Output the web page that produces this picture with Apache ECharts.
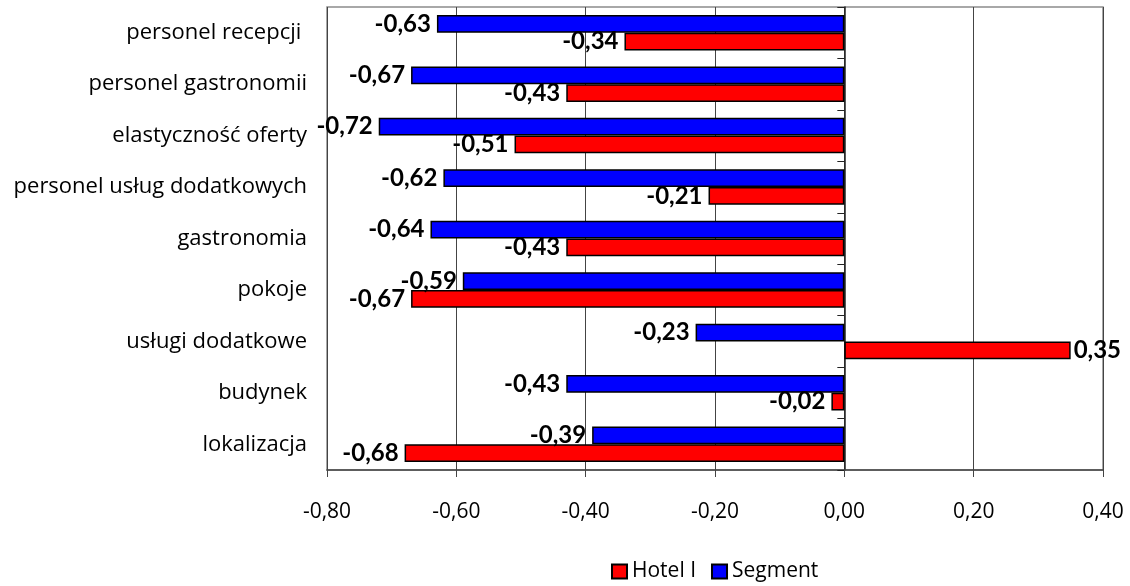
<!DOCTYPE html>
<html>
<head>
<meta charset="utf-8">
<script src="https://cdn.jsdelivr.net/npm/echarts@6/dist/echarts.min.js"></script>
<style>
  html, body { margin: 0; padding: 0; background: #fff; }
  #chart { width: 1130px; height: 586px; }
</style>
</head>
<body>
<div id="chart"></div>
<script>
// Categories, top to bottom
const categories = [
  'personel recepcji ',
  'personel gastronomii',
  'elastyczność oferty',
  'personel usług dodatkowych',
  'gastronomia',
  'pokoje',
  'usługi dodatkowe',
  'budynek',
  'lokalizacja'
];
const hotelValues   = [-0.34, -0.43, -0.51, -0.21, -0.43, -0.67, 0.35, -0.02, -0.68];
const segmentValues = [-0.63, -0.67, -0.72, -0.62, -0.64, -0.59, -0.23, -0.43, -0.39];
const xTicks = { min: -0.8, max: 0.4, interval: 0.2 };

const FONT = 'Lato';
const TEXT_FONT = 'Open Sans';
const fmt = v => v.toFixed(2).replace('.', ',');

function barLabel() {
  return {
    show: true,
    position: 'right',
    distance: 4,
    fontFamily: FONT,
    fontWeight: 'bold',
    fontSize: 24,
    color: '#000',
    formatter: p => fmt(p.value)
  };
}

function toData(values) {
  return values.map(v => ({
    value: v,
    label: v < 0 ? { position: 'left', distance: 6 } : { position: 'right', distance: 3 }
  }));
}

const chart = echarts.init(document.getElementById('chart'), null, { renderer: 'canvas' });
chart.setOption({
  animation: false,
  backgroundColor: '#fff',
  grid: {
    left: 327, right: 27, top: 7, bottom: 116,
    show: true, borderColor: '#8c8c8c', borderWidth: 1.5, backgroundColor: 'transparent'
  },
  legend: {
    left: 611, top: 561, padding: 0,
    itemWidth: 15, itemHeight: 14, itemGap: 15,
    icon: 'rect',
    data: ['Hotel I', 'Segment'],
    textStyle: { fontFamily: TEXT_FONT, fontSize: 21, color: '#000' }
  },
  xAxis: {
    type: 'value',
    min: xTicks.min, max: xTicks.max, interval: xTicks.interval,
    axisLine: { show: true, onZero: false, lineStyle: { color: '#444', width: 1.5 } },
    axisTick: { show: true, length: 7, lineStyle: { color: '#444' } },
    splitLine: { show: true, lineStyle: { color: '#444', width: 1 } },
    axisLabel: {
      margin: 32, fontFamily: TEXT_FONT, fontSize: 21, color: '#000',
      formatter: v => fmt(v)
    }
  },
  yAxis: [
    {
      type: 'category', data: categories, inverse: true, position: 'left',
      axisLine: { show: false, onZero: false },
      axisTick: { show: false },
      axisLabel: { margin: 20, fontFamily: TEXT_FONT, fontSize: 22, color: '#000' }
    },
    {
      type: 'category', data: categories, inverse: true, position: 'left',
      axisLine: { show: true, onZero: true, lineStyle: { color: '#222', width: 1.5 } },
      axisTick: { show: true, inside: false, length: 7, lineStyle: { color: '#222' } },
      axisLabel: { show: false }
    }
  ],
  series: [
    {
      name: 'Segment', type: 'bar', yAxisIndex: 0,
      data: toData(segmentValues),
      barGap: '0%', barCategoryGap: '31%',
      itemStyle: { color: '#0000ff', borderColor: '#000', borderWidth: 1.5 },
      label: barLabel()
    },
    {
      name: 'Hotel I', type: 'bar', yAxisIndex: 0,
      data: toData(hotelValues),
      barGap: '0%', barCategoryGap: '31%',
      itemStyle: { color: '#ff0000', borderColor: '#000', borderWidth: 1.5 },
      label: barLabel()
    }
  ]
});
</script>
</body>
</html>
